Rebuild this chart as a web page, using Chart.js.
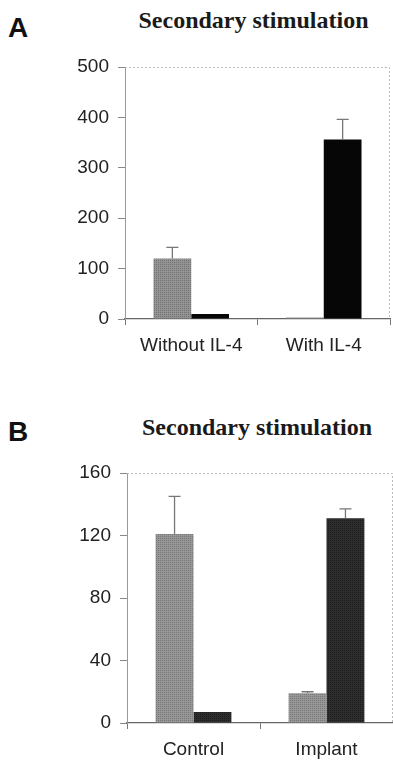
<!DOCTYPE html>
<html>
<head>
<meta charset="utf-8">
<script src="https://cdn.jsdelivr.net/npm/chart.js@4.4.1/dist/chart.umd.min.js"></script>
<style>
  body { margin: 0; background: #fff; width: 393px; height: 760px; position: relative; overflow: hidden; }
  .letter { position: absolute; left: 8px; font: bold 28px "Liberation Sans", Arial, sans-serif; line-height: 28px; color: #111; }
  .title { position: absolute; left: 0; text-align: center; font: bold 24px "Liberation Serif", "Times New Roman", serif; line-height: 24px; color: #1a1a1a; }
  .box { position: absolute; left: 0; width: 393px; }
</style>
</head>
<body>
<div class="letter" style="top:14px">A</div>
<div class="title" style="top:8px; width:507px">Secondary stimulation</div>
<div class="box" style="top:40px; height:325px"><canvas id="chartA"></canvas></div>

<div class="letter" style="top:418px">B</div>
<div class="title" style="top:415px; width:514px">Secondary stimulation</div>
<div class="box" style="top:440px; height:320px"><canvas id="chartB"></canvas></div>

<script>
// panel A
const catsA = ['Without IL-4', 'With IL-4'];
const grayA = [120, 3];
const grayErrA = [22, 0];
const blackA = [10, 356];
const blackErrA = [0, 40];
const ticksA = [0, 100, 200, 300, 400, 500];

// panel B
const catsB = ['Control', 'Implant'];
const grayB = [121, 19];
const grayErrB = [24, 1];
const darkB = [7, 131];
const darkErrB = [0, 6];
const ticksB = [0, 40, 80, 120, 160];

// halftone-ish fill like the scanned figure
function dots(base, dot) {
    var c = document.createElement('canvas');
    c.width = 2; c.height = 2;
    var g = c.getContext('2d');
    g.fillStyle = base;
    g.fillRect(0, 0, 2, 2);
    g.fillStyle = dot;
    g.fillRect(0, 0, 1, 1);
    return g.createPattern(c, 'repeat');
}

// top whiskers + dotted frame on top/right
const extras = {
    id: 'extras',
    afterDatasetsDraw(chart, args, opts) {
        const ctx = chart.ctx;
        const y = chart.scales.y;
        ctx.save();
        ctx.strokeStyle = '#777';
        ctx.lineWidth = 1.3;
        chart.data.datasets.forEach((ds, di) => {
            const meta = chart.getDatasetMeta(di);
            meta.data.forEach((bar, i) => {
                const err = ds.errors[i];
                if (!err) return;
                const top = y.getPixelForValue(ds.data[i] + err);
                ctx.beginPath();
                ctx.moveTo(bar.x, bar.y);
                ctx.lineTo(bar.x, top);
                ctx.moveTo(bar.x - 6, top);
                ctx.lineTo(bar.x + 6, top);
                ctx.stroke();
            });
        });
        const a = chart.chartArea;
        ctx.strokeStyle = '#bbb';
        ctx.lineWidth = 1;
        ctx.setLineDash([2, 2]);
        ctx.beginPath();
        ctx.moveTo(a.left, a.top + 0.5);
        ctx.lineTo(a.right - 0.5, a.top + 0.5);
        ctx.lineTo(a.right - 0.5, a.bottom);
        ctx.stroke();
        ctx.restore();
    }
};

const tickFont = { family: '"Liberation Sans", Arial, sans-serif', size: 19 };

function makeChart(id, cats, sets, tickVals, max, yWidth, xHeight, pad) {
    return new Chart(document.getElementById(id), {
        type: 'bar',
        data: {
            labels: cats,
            datasets: sets.map(s => ({
                data: s.data,
                errors: s.errors,
                backgroundColor: s.color,
                borderWidth: 0,
                categoryPercentage: 0.57,
                barPercentage: 1.0
            }))
        },
        options: {
            responsive: true,
            maintainAspectRatio: false,
            animation: false,
            layout: { padding: pad },
            plugins: { legend: { display: false }, tooltip: { enabled: false } },
            scales: {
                x: {
                    grid: { drawOnChartArea: false, drawTicks: true, tickLength: 6, color: '#777', offset: true },
                    border: { color: '#666', width: 1.3 },
                    ticks: { font: tickFont, color: '#222', padding: 9 },
                    afterFit: s => { s.height = xHeight; }
                },
                y: {
                    min: 0,
                    max: max,
                    afterBuildTicks: s => { s.ticks = tickVals.map(v => ({ value: v })); },
                    grid: { drawOnChartArea: false, drawTicks: true, tickLength: 7, color: '#888' },
                    border: { color: '#999', width: 1 },
                    ticks: { font: tickFont, color: '#222', padding: 9 },
                    afterFit: s => { s.width = yWidth; }
                }
            }
        },
        plugins: [extras]
    });
}

makeChart('chartA', catsA, [
    { data: grayA, errors: grayErrA, color: dots('#949494', '#707070') },
    { data: blackA, errors: blackErrA, color: '#060606' }
], ticksA, 500, 125, 46, { top: 27, right: 3, left: 0, bottom: 0 });

makeChart('chartB', catsB, [
    { data: grayB, errors: grayErrB, color: dots('#979797', '#767676') },
    { data: darkB, errors: darkErrB, color: dots('#2e2e2e', '#1c1c1c') }
], ticksB, 160, 127, 37, { top: 33, right: 0, left: 0, bottom: 0 });
</script>
</body>
</html>
